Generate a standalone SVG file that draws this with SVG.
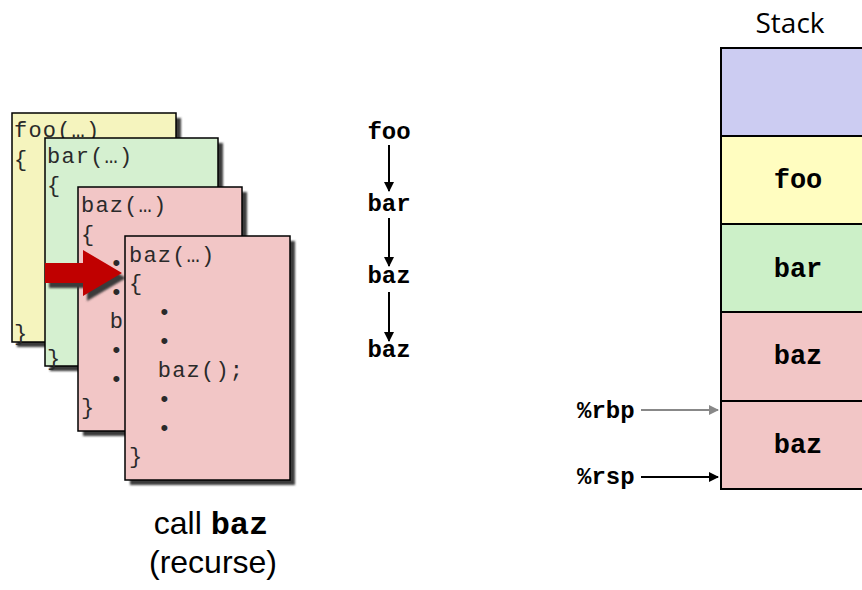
<svg xmlns="http://www.w3.org/2000/svg" width="862" height="590" viewBox="0 0 862 590">
<defs>
<filter id="blur" x="-10%" y="-10%" width="120%" height="120%"><feGaussianBlur stdDeviation="1.2"/></filter>
<marker id="ah" viewBox="0 0 10 10" refX="9" refY="5" markerWidth="5" markerHeight="5" orient="auto" markerUnits="strokeWidth"><path d="M0,0 L10,5 L0,10 z" fill="#000"/></marker>
<marker id="ahg" viewBox="0 0 10 10" refX="9" refY="5" markerWidth="5" markerHeight="5" orient="auto" markerUnits="strokeWidth"><path d="M0,0 L10,5 L0,10 z" fill="#888"/></marker>
<style>
.shadow{fill:#3a3a3a;filter:url(#blur)}
.frame{stroke:#000;stroke-width:1.5}
.code{font-family:"Liberation Mono","Courier New",monospace;font-size:22px;letter-spacing:1.2px;fill:#2a2a2a}
.lbl{font-family:"Liberation Mono","Courier New",monospace;font-weight:bold;font-size:24px;fill:#000;text-anchor:middle}
.slbl{font-family:"Liberation Mono","Courier New",monospace;font-weight:bold;font-size:27px;fill:#000;text-anchor:middle}
.reg{font-family:"Liberation Mono","Courier New",monospace;font-weight:bold;font-size:24px;fill:#000}
.cell{stroke:#000;stroke-width:2}
.conn{stroke:#000;stroke-width:2;fill:none;marker-end:url(#ah)}
.conng{stroke:#888;stroke-width:2;fill:none;marker-end:url(#ahg)}
.cap{font-family:"Liberation Sans",Arial,sans-serif;font-size:32px;fill:#000;text-anchor:middle}
</style>
</defs>
<rect width="862" height="590" fill="#fff"/>

<g id="frame-foo">
<rect class="shadow" x="17" y="118" width="164" height="229"/>
<rect class="frame" x="12" y="113" width="164" height="229" fill="#F5F4BE"/>
<text class="code" x="14" y="137">foo(…)</text>
<text class="code" x="14" y="166">{</text>
<text class="code" x="14" y="340">}</text>
</g>

<g id="frame-bar">
<rect class="shadow" x="50" y="143" width="173" height="228"/>
<rect class="frame" x="45" y="138" width="173" height="228" fill="#D5F0D0"/>
<text class="code" x="47" y="163">bar(…)</text>
<text class="code" x="47" y="192">{</text>
<text class="code" x="47" y="365">}</text>
</g>

<g id="frame-baz1">
<rect class="shadow" x="83" y="192" width="164" height="244"/>
<rect class="frame" x="78" y="187" width="164" height="244" fill="#F2C6C6"/>
<text class="code" x="81" y="212">baz(…)</text>
<text class="code" x="81" y="241">{</text>
<text class="code" x="81" y="270" xml:space="preserve">  •</text>
<text class="code" x="81" y="299" xml:space="preserve">  •</text>
<text class="code" x="81" y="328" xml:space="preserve">  b</text>
<text class="code" x="81" y="357" xml:space="preserve">  •</text>
<text class="code" x="81" y="386" xml:space="preserve">  •</text>
<text class="code" x="81" y="414">}</text>
</g>

<g id="red-arrow">
<polygon points="49,268 87,268 87,255 126,278 87,301 87,288 49,288" fill="#3a3a3a" filter="url(#blur)"/>
<polygon points="45,263 83,263 83,250 122,273 83,296 83,283 45,283" fill="#C00000"/>
</g>

<g id="frame-baz2">
<rect class="shadow" x="130" y="241" width="165" height="244"/>
<rect class="frame" x="125" y="236" width="165" height="244" fill="#F2C6C6"/>
<text class="code" x="129" y="262">baz(…)</text>
<text class="code" x="129" y="290">{</text>
<text class="code" x="129" y="319" xml:space="preserve">  •</text>
<text class="code" x="129" y="348" xml:space="preserve">  •</text>
<text class="code" x="129" y="377" xml:space="preserve">  baz();</text>
<text class="code" x="129" y="406" xml:space="preserve">  •</text>
<text class="code" x="129" y="435" xml:space="preserve">  •</text>
<text class="code" x="129" y="463">}</text>
</g>

<g id="caption">
<text class="cap" x="211" y="534">call <tspan font-family="'Liberation Mono','Courier New',monospace" font-weight="bold">baz</tspan></text>
<text class="cap" x="213" y="573">(recurse)</text>
</g>

<g id="chain-foo"><text class="lbl" x="389" y="139">foo</text></g>
<g id="chain-bar"><text class="lbl" x="389" y="211">bar</text></g>
<g id="chain-baz1"><text class="lbl" x="389" y="283">baz</text></g>
<g id="chain-baz2"><text class="lbl" x="389" y="357">baz</text></g>

<g id="stack">
<text x="790" y="33" font-family="'Open Sans','Noto Sans',sans-serif" font-size="28" text-anchor="middle" fill="#000">Stack</text>
<rect class="cell" x="721" y="48" width="170" height="88" fill="#CCCCF2"/>
<rect class="cell" x="721" y="136" width="170" height="88" fill="#FFFDC0"/>
<rect class="cell" x="721" y="224" width="170" height="88" fill="#CCF0C8"/>
<rect class="cell" x="721" y="312" width="170" height="89" fill="#F2C6C6"/>
<rect class="cell" x="721" y="401" width="170" height="88" fill="#F2C6C6"/>
<text class="slbl" x="798" y="188">foo</text>
<text class="slbl" x="798" y="277">bar</text>
<text class="slbl" x="798" y="364">baz</text>
<text class="slbl" x="798" y="453">baz</text>
</g>

<g id="reg-rbp"><text class="reg" x="577" y="418">%rbp</text></g>
<g id="reg-rsp"><text class="reg" x="577" y="484">%rsp</text></g>

<g id="connectors">
<line class="conn" x1="389" y1="145" x2="389" y2="191"/>
<line class="conn" x1="389" y1="218" x2="389" y2="266"/>
<line class="conn" x1="389" y1="292" x2="389" y2="341"/>
<line class="conng" x1="641" y1="410" x2="718" y2="410"/>
<line class="conn" x1="641" y1="477" x2="718" y2="477"/>
</g>
</svg>
